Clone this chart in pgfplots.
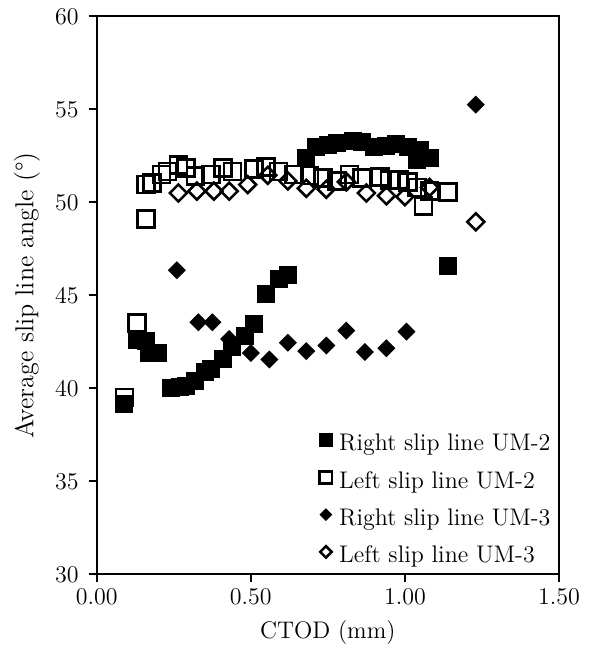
\documentclass[border=0pt]{standalone}
\usepackage{fontspec}
\usepackage{pgfplots}
\pgfplotsset{compat=1.18}
\newcommand\ff{\fontsize{11.5}{13.5}\selectfont}
\newcommand\fl{\fontsize{12}{14}\selectfont}
\newcommand\ft{\fontsize{12}{14}\selectfont}
\newcommand\fy{\fontsize{13}{15}\selectfont}
\begin{document}
\begin{tikzpicture}
\begin{axis}[
  at={(0,0)}, anchor=south west,
  scale only axis, width=231.15pt, height=279pt,
  xmin=0, xmax=1.5, ymin=30, ymax=60,
  xtick={0,0.5,1,1.5}, ytick={30,35,40,45,50,55,60},
  xtick pos=bottom, ytick pos=left,
  tick align=outside, major tick length=4pt,
  axis line style={line width=0.9pt},
  every tick/.style={black, line width=0.9pt},
  xticklabel style={font=\ft, /pgf/number format/fixed, /pgf/number format/fixed zerofill, /pgf/number format/precision=2},
  yticklabel style={font=\ft, xshift=-1.5pt},
  xlabel={CTOD (mm)}, ylabel={Average slip line angle (°)},
  xlabel style={font=\fl, at={(axis description cs:0.5,-0.105)}, anchor=center},
  ylabel style={font=\fy, at={(axis description cs:-0.1508,0.5)}, anchor=center},
  legend image code/.code={\draw[#1] plot coordinates {(0pt,2.5pt)};},
  legend cell align=left,
  legend style={draw=none, fill=none, at={(axis cs:0.722,33.95)}, anchor=west,
    inner sep=0pt, row sep=7.6pt, column sep=3.5pt, font=\fl,
    nodes={inner sep=0pt, text height=8.4pt, text depth=2.6pt}},
]
% Right slip line UM-2 (filled squares)
\addplot[only marks, mark=square*, mark size=4.25pt, mark options={fill=black, draw=black, line width=0.5pt}, forget plot] coordinates {
(0.09,39.15) (0.13,42.6) (0.16,42.55) (0.17,41.9) (0.20,41.88)
(0.24,40.0) (0.27,40.05) (0.29,40.15) (0.32,40.4) (0.35,40.85)
(0.37,41.05) (0.41,41.55) (0.44,42.2) (0.48,42.8) (0.51,43.45)
(0.55,45.05) (0.59,45.85) (0.62,46.1)
(0.68,52.4) (0.71,52.95) (0.75,53.1) (0.78,53.2) (0.83,53.3)
(0.86,53.25) (0.90,52.95) (0.94,53.05) (0.97,53.15) (1.01,52.95)
(1.04,52.3) (1.05,52.8) (1.08,52.4) (1.14,46.6)
};
% Left slip line UM-2 (open squares)
\addplot[only marks, mark=square, mark size=4.25pt, mark options={draw=black, fill=none, line width=1.3pt}, forget plot] coordinates {
(0.09,39.5) (0.13,43.5) (0.16,49.1) (0.16,50.95) (0.18,51.05)
(0.21,51.5) (0.23,51.65) (0.265,52.0) (0.29,51.85) (0.32,51.4)
(0.37,51.5) (0.41,51.85) (0.44,51.65) (0.51,51.8) (0.55,51.9)
(0.59,51.65) (0.64,51.5) (0.69,51.45) (0.735,51.3) (0.78,51.15)
(0.82,51.5) (0.86,51.3) (0.92,51.35) (0.95,51.2) (0.98,51.2)
(1.01,51.1) (1.04,50.8) (1.06,49.8) (1.08,50.6) (1.14,50.55)
};
% Right slip line UM-3 (filled diamonds)
\addplot[only marks, mark=square*, mark size=2.93pt, mark options={rotate=45, fill=black, draw=black, line width=0.5pt}, forget plot] coordinates {
(0.26,46.35) (0.33,43.55) (0.375,43.55) (0.43,42.65) (0.50,41.9)
(0.56,41.55) (0.62,42.45) (0.68,42.0) (0.745,42.3) (0.81,43.1)
(0.87,41.95) (0.94,42.15) (1.005,43.05) (1.23,55.25)
};
% Left slip line UM-3 (open diamonds)
\addplot[only marks, mark=square, mark size=3.0pt, mark options={rotate=45, draw=black, fill=none, line width=1.3pt}, forget plot] coordinates {
(0.265,50.5) (0.325,50.6) (0.38,50.6) (0.43,50.6) (0.49,50.95)
(0.555,51.45) (0.62,51.15) (0.68,50.75) (0.745,50.7) (0.81,51.1)
(0.875,50.5) (0.94,50.35) (1.00,50.3) (1.08,50.8) (1.23,48.95)
};
\addlegendimage{mark=square*, mark size=3.15pt, mark options={fill=black, draw=black, line width=0.5pt}}
\addlegendentry{Right slip line UM-2}
\addlegendimage{mark=square, mark size=3.1pt, mark options={draw=black, fill=none, line width=1.3pt}}
\addlegendentry{Left slip line UM-2}
\addlegendimage{mark=square*, mark size=2.0pt, mark options={rotate=45, fill=black, draw=black, line width=0.5pt}}
\addlegendentry{Right slip line UM-3}
\addlegendimage{mark=square, mark size=2.0pt, mark options={rotate=45, draw=black, fill=none, line width=1.3pt}}
\addlegendentry{Left slip line UM-3}
\end{axis}
\pgfresetboundingbox
\path[use as bounding box] (-48.35pt,-38.35pt) rectangle (246.65pt,287.15pt);
\end{tikzpicture}
\end{document}
